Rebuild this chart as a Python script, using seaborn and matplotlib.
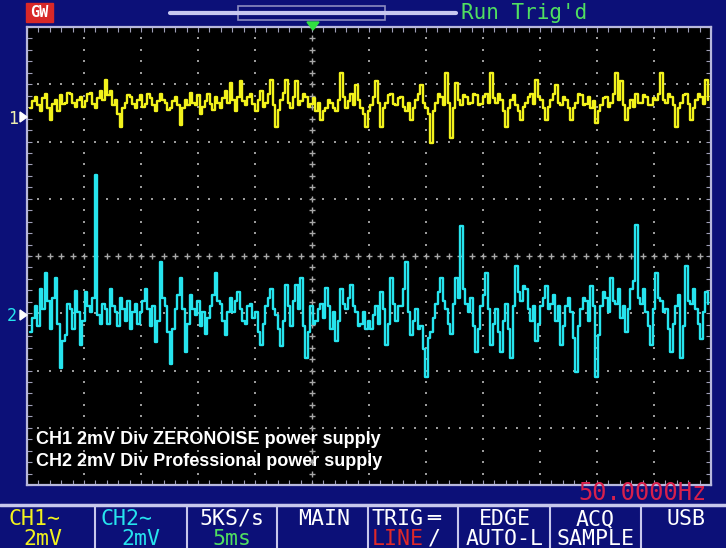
import numpy as np
import pandas as pd
import matplotlib
matplotlib.use("Agg")
import matplotlib.pyplot as plt
from matplotlib.patches import Rectangle, Polygon
import seaborn as sns

dt_ms = 0.2193            # sample spacing of the displayed record (ms)
t0_ms = 0.263             # first sample time
ch1_offset_div = 2.43     # CH1 ground marker position (divisions from centre)
ch2_offset_div = -1.03    # CH2 ground marker position
volts_per_div_mv = 2.0

ch1_mv = [0.3, 0.55, 0.7, 0.4, 0.2, 0.65, 0.8, 0.3, -0.1, 0.45, 0.6, 0.2, 0.75, 0.45, 0.5, 0.85, 0.8, 0.5, 0.35, 0.6,
          0.7, 0.35, 0.55, 0.8, 0.85, 0.45, 0.3, 0.65, 0.9, 0.6, 1.3, 0.75, 0.9, 0.4, 0.6, 0.1, -0.35, 0.3, 0.5, 0.75,
          0.7, 0.45, 0.3, 0.6, 0.75, 0.35, 0.45, 0.8, 0.65, 0.4, 0.2, 0.55, 0.8, 0.6, 0.5, 0.25, 0.3, 0.55, 0.7, 0.4,
          -0.3, 0.3, 0.6, 0.4, 0.85, 0.5, 0.4, 0.75, 0.1, 0.35, 0.55, 0.8, 0.45, 0.25, 0.7, 0.5, 0.3, 0.65, 0.9, 0.5,
          1.2, 0.6, 0.2, 0.7, 1.25, 0.55, 0.4, 0.7, 0.8, 0.45, 0.2, 0.6, 0.9, 0.35, 0.5, 0.8, 1.3, 0.4, -0.35, 0.25,
          0.6, 0.85, 1.3, 0.5, 0.3, 0.7, 1.25, 0.4, 0.55, 0.8, 0.7, 0.35, 0.45, 0.65, 0.2, 0.5, -0.1, 0.2, 0.3, 0.6,
          0.5, 0.3, 0.2, 0.6, 1.55, 0.7, 0.3, 0.55, 0.8, 0.4, 1.1, 0.6, 0.3, 0.1, -0.35, 0.2, 0.4, 0.7, 1.25, 0.5,
          -0.35, 0.3, 0.5, 0.75, 0.8, 0.45, 0.4, 0.65, 0.7, 0.35, 0.2, 0.5, -0.1, 0.3, 0.6, 0.8, 1.1, 0.5, 0.3, 0.1,
          -0.9, 0.2, 0.5, 0.8, 0.7, 0.4, 1.55, 0.5, -0.75, 0.3, 1.2, 0.6, 0.4, 0.75, 0.7, 0.45, 0.5, 0.8, 0.75, 0.4,
          0.45, 0.7, 0.8, 0.5, 1.55, 0.65, 0.5, 0.8, 0.6, 0.2, -0.35, 0.3, 0.6, 0.75, 0.4, 0.2, -0.1, 0.35, 0.5, 0.7,
          0.8, 0.45, 1.3, 0.7, 0.6, 0.3, -0.1, 0.35, 0.6, 0.8, 1.1, 0.5, 0.4, 0.7, 0.6, 0.3, -0.1, 0.3, 0.5, 0.8,
          0.75, 0.4, 0.45, 0.7, 0.3, 0.55, -0.2, 0.2, 0.4, 0.65, 0.7, 0.35, 0.5, 0.8, 1.55, 0.6, 1.25, 0.4, -0.1, 0.3,
          0.6, 0.35, 0.8, 0.5, 0.5, 0.75, 0.7, 0.4, 0.4, 0.65, 0.6, 0.8, 1.55, 0.6, 0.5, 0.8, 0.7, 0.4, -0.35, 0.3,
          0.5, 0.75, 0.8, 0.45, -0.1, 0.3, 0.6, 0.8, 0.7, 0.45, 1.3, 0.6]

ch2_mv = [-0.6, -0.1, 0.3, -0.4, 0.9, 0.2, 1.45, 0.5, -0.5, 0.6, 1.3, -0.3, -1.85, -0.9, -0.7, 0.4, 0.2, -0.5, 0.85, 0.1,
          -1.05, -0.2, 0.8, 0.3, 0.1, 0.6, 4.9, 0.0, -0.3, 0.4, 0.2, -0.3, 0.9, 0.3, 0.1, -0.4, 0.6, 0.2, -0.2, 0.5,
          -0.5, 0.1, 0.4, -0.3, 0.1, 0.5, 0.9, 0.2, -0.4, 0.3, -0.95, -0.2, 1.85, 0.6, 0.3, -0.6, -1.7, -0.5, 0.2, 0.7,
          1.3, 0.2, -1.3, -0.3, 0.7, 0.2, 0.0, 0.5, -0.4, 0.1, -0.65, -0.1, 0.3, 0.7, 1.45, 0.5, 0.4, -0.2, -0.7, 0.1,
          0.6, 0.1, 0.5, 0.8, 0.2, -0.2, -0.3, 0.3, 0.4, -0.1, 0.1, -0.6, -1.05, -0.3, 0.3, 0.6, 0.9, 0.2, 0.0, -0.5,
          -1.1, -0.2, 1.05, 0.3, -0.4, 0.5, 1.05, 0.2, 1.3, -0.4, -1.5, -0.6, 0.3, -0.3, -0.2, 0.2, 0.4, -0.1, 0.95, 0.3,
          -0.5, 0.1, -0.9, -0.2, 0.9, 0.4, 0.2, 0.6, 1.05, 0.3, 0.1, -0.4, -0.3, 0.1, -0.5, -0.2, -0.5, 0.0, 0.3, -0.3,
          0.8, 0.2, -1.05, -0.3, 1.3, 0.4, -0.2, 0.3, 0.3, 0.9, 1.85, 0.1, -0.7, -0.2, 0.2, -0.5, -0.4, -1.2, -2.15, -0.8,
          -0.6, -0.1, 0.4, 0.8, 1.3, 0.5, 0.2, -0.3, -0.65, 0.4, 1.3, 0.6, 3.1, 0.9, 0.4, 0.1, 0.6, -0.4, -1.3, -0.5,
          0.3, 0.7, 1.45, 0.2, -1.05, -0.3, 0.2, -0.6, -1.3, -0.2, 0.4, -0.5, -1.5, 0.3, 1.7, 0.8, 0.5, 1.0, 0.9, 0.2,
          -0.2, 0.3, -0.9, -0.3, 0.3, 0.6, 1.0, 0.2, 0.4, 0.7, -0.2, 0.3, -1.05, -0.4, 0.3, 0.6, 0.1, -0.8, -2.0, -0.4,
          0.2, 0.6, 0.5, -0.2, 1.0, 0.3, -2.15, -0.7, 0.3, 0.8, 0.6, 0.1, 1.3, 0.5, 0.4, 0.9, -0.1, 0.3, -0.6, 0.2,
          0.9, 1.2, 3.15, 0.6, 0.4, 0.9, 0.1, -0.4, -1.05, 0.2, 1.45, 0.6, 0.5, 0.1, 0.2, -0.5, -1.3, -0.3, 0.3, 0.7,
          -1.5, -0.4, 1.7, 0.5, 0.4, 0.9, 0.2, -0.3, -0.85, 0.1, 0.8, 0.4]

channel_labels = ["CH1 2mV Div ZERONOISE power supply",
                  "CH2 2mV Div Professional power supply"]

# ---------------- build table ----------------
t1 = t0_ms + dt_ms * np.arange(len(ch1_mv))
t2 = t0_ms + dt_ms * np.arange(len(ch2_mv))
df = pd.concat([
    pd.DataFrame({"t": t1, "div": ch1_offset_div + np.array(ch1_mv) / volts_per_div_mv, "ch": "CH1"}),
    pd.DataFrame({"t": t2, "div": ch2_offset_div + np.array(ch2_mv) / volts_per_div_mv, "ch": "CH2"}),
])

W, H = 726, 548
NAVY = "#0c1078"
FRAME = "#b8b8dc"
YEL = "#f2f21c"
CYA = "#26e4ee"

sns.set_theme(style="dark")
plt.rcParams["font.family"] = ["DejaVu Sans"]

fig = plt.figure(figsize=(W / 100, H / 100), dpi=100, facecolor=NAVY)

def fx(x):
    return x / W

def fy(y):
    return 1 - y / H

ax = fig.add_axes([fx(27), fy(485), 684 / W, 458 / H])
ax.set_facecolor("black")
ax.set_xlim(0, 60)
ax.set_ylim(-4, 4)

# graticule
gx = np.arange(0, 60.01, 1.0)
gy = np.arange(-4, 4.01, 0.2)
for k in range(1, 12):
    xv = 5 * k
    if k == 5:
        ax.scatter(np.full_like(gy, xv), gy, marker="+", s=18, color="#a8a8a8", linewidths=1.0, zorder=1)
    else:
        ax.scatter(np.full_like(gy, xv), gy, marker="s", s=1.6, color="#9a9a9a", linewidths=0, zorder=1)
for k in range(-3, 4):
    if k == 0:
        ax.scatter(gx, np.zeros_like(gx), marker="+", s=18, color="#a8a8a8", linewidths=1.0, zorder=1)
    else:
        ax.scatter(gx, np.full_like(gx, float(k)), marker="s", s=1.6, color="#9a9a9a", linewidths=0, zorder=1)

sns.lineplot(data=df, x="t", y="div", hue="ch", palette={"CH1": YEL, "CH2": CYA},
             estimator=None, sort=False, drawstyle="steps-post", linewidth=1.7,
             legend=False, ax=ax, zorder=3)

ax.set_xlabel("")
ax.set_ylabel("")
ax.set_xticks(np.arange(0, 60.01, 1.0))
ax.set_yticks(np.arange(-4, 4.01, 0.2))
ax.tick_params(which="both", direction="in", top=True, right=True, bottom=True, left=True,
               length=3.5, width=0.8, color="#a0a0b8",
               labelbottom=False, labelleft=False)
ax.grid(False)
for s in ax.spines.values():
    s.set_color(FRAME)
    s.set_linewidth(1.6)
    s.set_visible(True)

fig.text(fx(36), fy(439), channel_labels[0], color="white", fontsize=13,
         family="Liberation Sans", weight="bold", ha="left", va="center")
fig.text(fx(36), fy(462), channel_labels[1], color="white", fontsize=13,
         family="Liberation Sans", weight="bold", ha="left", va="center")

# channel ground markers
mono = "DejaVu Sans Mono"
fig.text(fx(13), fy(119), "1", color="#f0f0b0", fontsize=12, family=mono, ha="center", va="center")
fig.text(fx(12), fy(316), "2", color=CYA, fontsize=12, family=mono, ha="center", va="center")
for yy in (117, 315):
    fig.patches.append(Polygon([[fx(20), fy(yy - 5)], [fx(20), fy(yy + 5)], [fx(27), fy(yy)]],
                               closed=True, transform=fig.transFigure, color="white"))

# top bar
fig.patches.append(Rectangle((fx(26), fy(22)), 27 / W, 19 / H, transform=fig.transFigure,
                             color="#d82828"))
fig.text(fx(39.5), fy(12.5), "GW", color="white", fontsize=11, family=mono, ha="center",
         va="center", weight="bold")
fig.add_artist(plt.Line2D([fx(170), fx(456)], [fy(13), fy(13)], transform=fig.transFigure,
                          color="#c8c8f0", linewidth=3))
fig.patches.append(Rectangle((fx(238), fy(20)), 147 / W, 14 / H, transform=fig.transFigure,
                             facecolor="none", edgecolor="#8c8cc0", linewidth=1.2))
fig.text(fx(461), fy(13), "Run Trig'd", color="#50e060", fontsize=15, family=mono,
         ha="left", va="center")
fig.patches.append(Polygon([[fx(307), fy(22)], [fx(319), fy(22)], [fx(313), fy(30)]],
                           closed=True, transform=fig.transFigure, color="#30e040"))

# frequency readout
fig.text(fx(707), fy(493), "50.0000Hz", color="#d8204c", fontsize=17, family=mono,
         ha="right", va="center")

# bottom menu bar
fig.add_artist(plt.Line2D([0, 1], [fy(505), fy(505)], transform=fig.transFigure,
                          color="#c8c8ec", linewidth=2.5))
for xs in (95, 187, 277, 368, 458, 550, 641):
    fig.add_artist(plt.Line2D([fx(xs), fx(xs)], [fy(505), 0], transform=fig.transFigure,
                              color="#c8c8ec", linewidth=1.5))

menu_font = dict(family=mono, fontsize=15.5, va="center")
r1, r2 = 519, 539
fig.text(fx(8), fy(r1), "CH1∼", color=YEL, ha="left", **menu_font)
fig.text(fx(43), fy(r2), "2mV", color=YEL, ha="center", **menu_font)
fig.text(fx(100), fy(r1), "CH2∼", color=CYA, ha="left", **menu_font)
fig.text(fx(141), fy(r2), "2mV", color=CYA, ha="center", **menu_font)
fig.text(fx(232), fy(r1), "5KS/s", color="white", ha="center", **menu_font)
fig.text(fx(232), fy(r2), "5ms", color="#50e060", ha="center", **menu_font)
fig.text(fx(324), fy(r1), "MAIN", color="white", ha="center", **menu_font)
fig.text(fx(372), fy(r1), "TRIG", color="white", ha="left", **menu_font)
fig.text(fx(427), fy(r1), "═", color="white", ha="left", **menu_font)
fig.text(fx(372), fy(r2), "LINE", color="#e02828", ha="left", **menu_font)
fig.text(fx(428), fy(r2), "/", color="white", ha="left", **menu_font)
fig.text(fx(505), fy(r1), "EDGE", color="white", ha="center", **menu_font)
fig.text(fx(505), fy(r2), "AUTO-L", color="white", ha="center", **menu_font)
fig.text(fx(595), fy(r1), "ACQ", color="white", ha="center", **menu_font)
fig.text(fx(595), fy(r2), "SAMPLE", color="white", ha="center", **menu_font)
fig.text(fx(686), fy(r1), "USB", color="white", ha="center", **menu_font)

fig.savefig("out.png", dpi=100, facecolor=NAVY)
